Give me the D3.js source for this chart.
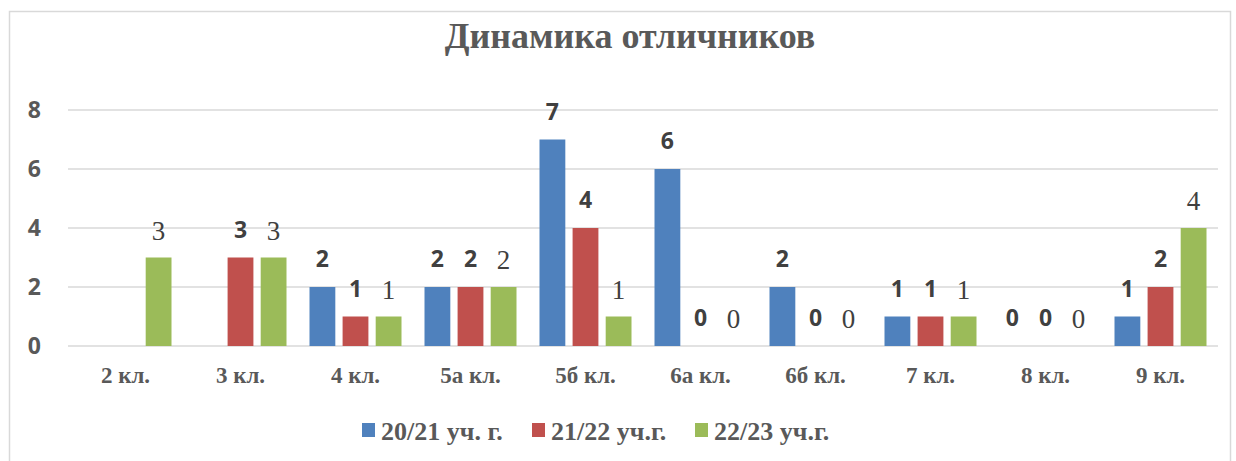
<!DOCTYPE html>
<html lang="ru">
<head>
<meta charset="UTF-8">
<title>Динамика отличников</title>
<script src="https://d3js.org/d3.v7.min.js"></script>
<style>
  body { margin: 0; background: #fff; }
  svg { display: block; }
</style>
</head>
<body>
<div id="chart"></div>
<script>
// данные
const categories = ["2 кл.", "3 кл.", "4 кл.", "5а кл.", "5б кл.", "6а кл.", "6б кл.", "7 кл.", "8 кл.", "9 кл."];
const seriesNames = ["20/21 уч. г.", "21/22 уч.г.", "22/23 уч.г."];
const values2021 = [null, null, 2, 2, 7, 6, 2, 1, 0, 1];
const values2122 = [null, 3, 1, 2, 4, 0, 0, 1, 0, 2];
const values2223 = [3, 3, 1, 2, 1, 0, 0, 1, 0, 4];
const yTicks = [0, 2, 4, 6, 8];

const colors = ["#4F81BD", "#C0504D", "#9BBB59"];
const series = [values2021, values2122, values2223];

const width = 1236, height = 461;
const plot = { left: 68, right: 1218, top: 110, bottom: 346 };

const svg = d3.select("#chart").append("svg")
  .attr("width", width).attr("height", height);

// рамка
svg.append("rect")
  .attr("x", 9.5).attr("y", 11.5)
  .attr("width", 1221).attr("height", 470)
  .attr("fill", "white")
  .attr("stroke", "#D9D9D9").attr("stroke-width", 1.5);

// заголовок
svg.append("text")
  .attr("x", 630).attr("y", 48)
  .attr("text-anchor", "middle")
  .attr("font-family", "'Liberation Serif', serif")
  .attr("font-weight", "bold")
  .attr("font-size", 36)
  .attr("fill", "#595959")
  .text("Динамика отличников");

const x = d3.scaleBand().domain(categories).range([plot.left, plot.right]);
const y = d3.scaleLinear().domain([0, 8]).range([plot.bottom, plot.top]);
const sub = d3.scaleBand().domain(d3.range(3)).range([-46, 46]).paddingInner(0.22);

// сетка
svg.append("g").selectAll("line").data(yTicks).join("line")
  .attr("x1", plot.left).attr("x2", plot.right)
  .attr("y1", d => y(d)).attr("y2", d => y(d))
  .attr("stroke", "#D9D9D9").attr("stroke-width", 1.5);

// подписи оси Y
svg.append("g").selectAll("text").data(yTicks).join("text")
  .attr("x", 41).attr("y", d => y(d))
  .attr("dy", "0.36em")
  .attr("text-anchor", "end")
  .attr("font-family", "'Open Sans', sans-serif")
  .attr("font-weight", "bold")
  .attr("font-size", 23)
  .attr("fill", "#595959")
  .text(d => d);

// подписи оси X
svg.append("g").selectAll("text").data(categories).join("text")
  .attr("x", d => x(d) + x.bandwidth() / 2)
  .attr("y", 383)
  .attr("text-anchor", "middle")
  .attr("font-family", "'Liberation Serif', serif")
  .attr("font-weight", "bold")
  .attr("font-size", 23)
  .attr("fill", "#595959")
  .text(d => d);

// столбцы и подписи значений
series.forEach((vals, si) => {
  const pts = vals.map((v, i) => ({ cat: categories[i], v }))
    .filter(d => d.v !== null);
  const g = svg.append("g");
  const cx = d => x(d.cat) + x.bandwidth() / 2 + sub(si);
  g.selectAll("rect").data(pts.filter(d => d.v > 0)).join("rect")
    .attr("x", cx)
    .attr("y", d => y(d.v))
    .attr("width", sub.bandwidth())
    .attr("height", d => y(0) - y(d.v))
    .attr("fill", colors[si]);
  const serif = si === 2;
  g.selectAll("text").data(pts).join("text")
    .attr("x", d => cx(d) + sub.bandwidth() / 2)
    .attr("y", d => y(d.v) - (serif ? 18 : 20))
    .attr("text-anchor", "middle")
    .attr("font-family", serif ? "'Liberation Serif', serif" : "'Open Sans', sans-serif")
    .attr("font-weight", serif ? "normal" : "bold")
    .attr("font-size", serif ? 27 : 23)
    .attr("fill", "#404040")
    .text(d => d.v);
});

// легенда
const legendX = [362, 532, 695];
const legend = svg.append("g").selectAll("g").data(seriesNames).join("g")
  .attr("transform", (d, i) => `translate(${legendX[i]},0)`);
legend.append("rect")
  .attr("x", 0).attr("y", 423)
  .attr("width", 13).attr("height", 14)
  .attr("fill", (d, i) => colors[i]);
legend.append("text")
  .attr("x", 19).attr("y", 440)
  .attr("font-family", "'Liberation Serif', serif")
  .attr("font-weight", "bold")
  .attr("font-size", 26)
  .attr("fill", "#595959")
  .text(d => d);
</script>
</body>
</html>
